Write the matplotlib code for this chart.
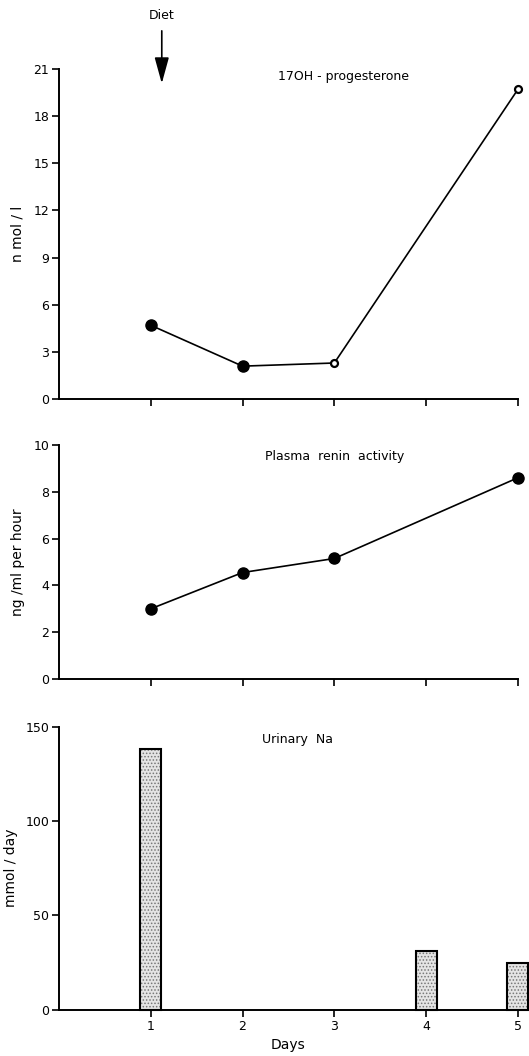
import matplotlib
matplotlib.use('Agg')
import matplotlib.pyplot as plt

# data
days = [1, 2, 3, 5]
ohp = [4.7, 2.1, 2.3, 19.7]          # 17OH-progesterone, nmol/l
ohp_open = [False, False, True, True]  # open symbols on day 3 and 5
pra_days = [1, 2, 3, 5]
pra = [3.0, 4.55, 5.15, 8.6]         # plasma renin activity, ng/ml per hour
na_days = [1, 4, 5]
na = [138, 31, 25]                   # urinary Na, mmol/day

plt.rcParams['font.family'] = 'DejaVu Sans'
plt.rcParams['font.size'] = 9
plt.rcParams['hatch.linewidth'] = 0.7

fig = plt.figure(figsize=(5.29, 10.56), dpi=100)
L, W = 0.1115, 0.8675
ax1 = fig.add_axes([L, 0.622, W, 0.3127])
ax2 = fig.add_axes([L, 0.357, W, 0.2216])
ax3 = fig.add_axes([L, 0.0436, W, 0.2684])

def style(ax, ylim, yticks, labels_x=False):
    ax.set_xlim(0, 5)
    ax.set_ylim(*ylim)
    ax.set_yticks(yticks)
    ax.set_xticks([1, 2, 3, 4, 5])
    for s in ['top', 'right']:
        ax.spines[s].set_visible(False)
    for s in ['left', 'bottom']:
        ax.spines[s].set_linewidth(1.4)
    ax.tick_params(direction='out', length=5, width=1.2, labelsize=9, pad=2)
    if not labels_x:
        ax.set_xticklabels([])

# panel 1
style(ax1, (0, 21), [0, 3, 6, 9, 12, 15, 18, 21])
ax1.plot(days, ohp, color='black', lw=1.2, clip_on=False, zorder=2)
for d, v, o in zip(days, ohp, ohp_open):
    if o:
        ax1.plot(d, v, 'o', ms=5, mfc='white', mec='black', mew=1.6, clip_on=False, zorder=3)
    else:
        ax1.plot(d, v, 'o', ms=8, color='black', clip_on=False, zorder=3)
ax1.set_ylabel('n mol / l', fontsize=10)
ax1.yaxis.set_label_coords(-0.075, 0.5)
ax1.text(3.1, 20.5, '17OH - progesterone', ha='center', va='center', fontsize=9)
ax1.annotate('', xy=(1.12, 19.9), xytext=(1.12, 23.6), annotation_clip=False,
             arrowprops=dict(arrowstyle='-|>,head_width=0.22,head_length=0.8',
                             mutation_scale=20, color='black', lw=1.2))
ax1.text(1.12, 24.4, 'Diet', ha='center', va='center', fontsize=9)

# panel 2
style(ax2, (0, 10), [0, 2, 4, 6, 8, 10])
ax2.plot(pra_days, pra, 'o-', color='black', lw=1.2, ms=8, clip_on=False)
ax2.set_ylabel('ng /ml per hour', fontsize=10)
ax2.yaxis.set_label_coords(-0.075, 0.5)
ax2.text(3.0, 9.5, 'Plasma  renin  activity', ha='center', va='center', fontsize=9)

# panel 3
style(ax3, (0, 150), [0, 50, 100, 150], labels_x=True)
ax3.bar(na_days, na, width=0.23, color='#e4e4e4', edgecolor='#777777',
        hatch='.....', lw=0, clip_on=False, zorder=2)
ax3.bar(na_days, na, width=0.23, color='none', edgecolor='black',
        lw=1.5, clip_on=False, zorder=3)
ax3.set_ylabel('mmol / day', fontsize=10)
ax3.yaxis.set_label_coords(-0.09, 0.5)
ax3.set_xlabel('Days', fontsize=10, labelpad=4)
ax3.text(2.6, 143, 'Urinary  Na', ha='center', va='center', fontsize=9)

fig.savefig('out.png', dpi=100)
